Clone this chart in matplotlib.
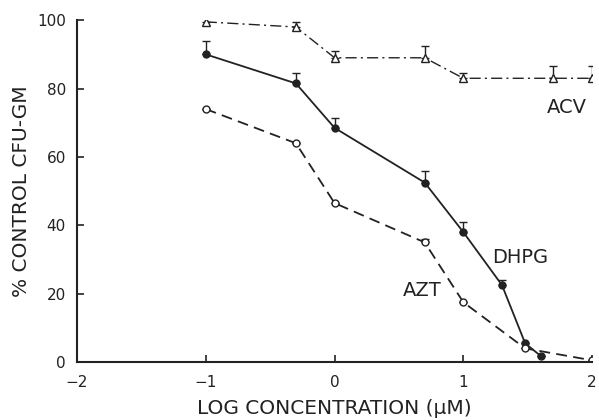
import matplotlib
matplotlib.use("Agg")
import matplotlib.pyplot as plt
import numpy as np

plt.rcParams['font.family'] = ['DejaVu Sans']

acv_x = [-1, -0.3, 0, 0.7, 1, 1.7, 2]
acv_y = [99.5, 98, 89, 89, 83, 83, 83]
acv_err = [2, 1.5, 2, 3.5, 1.5, 3.5, 3.5]

dhpg_x = [-1, -0.3, 0, 0.7, 1, 1.3, 1.48, 1.6]
dhpg_y = [90, 81.5, 68.5, 52.5, 38, 22.5, 5.5, 1.8]
dhpg_err = [4, 3, 3, 3.5, 3, 1.5, 0, 0]

azt_x = [-1, -0.3, 0, 0.7, 1, 1.48, 2]
azt_y = [74, 64, 46.5, 35, 17.5, 4, 0.5]
azt_err = [0, 0, 0, 1, 0, 0, 0]

xticks = [-2, -1, 0, 1, 2]
yticks = [0, 20, 40, 60, 80, 100]

fig = plt.figure(figsize=(5.99, 4.2), dpi=100)
ax = fig.add_axes([0.1285, 0.138, 0.86, 0.814])

ink = '#222222'
ax.errorbar(acv_x, acv_y, yerr=[np.zeros(len(acv_err)), acv_err], fmt='^', ls=(0, (8, 3, 1.5, 3)),
            color=ink, mfc='white', mec=ink, ms=6, lw=1.0, capsize=3, elinewidth=1.0)
ax.errorbar(dhpg_x, dhpg_y, yerr=[np.zeros(len(dhpg_err)), dhpg_err], fmt='o', ls='-',
            color=ink, mfc=ink, mec=ink, ms=5, lw=1.3, capsize=3, elinewidth=1.0)
ax.errorbar(azt_x, azt_y, yerr=[np.zeros(len(azt_err)), azt_err], fmt='o', ls=(0, (6, 3.5)),
            color=ink, mfc='white', mec=ink, ms=5, lw=1.3, capsize=3, elinewidth=1.0)

ax.text(1.8, 74.5, 'ACV', fontsize=14, color=ink, ha='center', va='center')
ax.text(1.44, 30.7, 'DHPG', fontsize=14, color=ink, ha='center', va='center')
ax.text(0.68, 21, 'AZT', fontsize=14, color=ink, ha='center', va='center')

ax.set_xlim(-2, 2)
ax.set_ylim(0, 100)
ax.set_xticks(xticks)
ax.set_yticks(yticks)
ax.spines['top'].set_visible(False)
ax.spines['right'].set_visible(False)
for s in ['left', 'bottom']:
    ax.spines[s].set_linewidth(1.5)
    ax.spines[s].set_color(ink)
ax.tick_params(direction='in', length=5, width=1.2, labelsize=11, colors=ink)
ax.tick_params(axis='y', pad=8)
ax.tick_params(axis='x', pad=9)
ax.set_xlabel('LOG CONCENTRATION (\u03bcM)', fontsize=14.5, color=ink, labelpad=7)
ax.set_ylabel('% CONTROL CFU-GM', fontsize=14.5, color=ink, labelpad=4)

fig.savefig('out.png', dpi=100)
